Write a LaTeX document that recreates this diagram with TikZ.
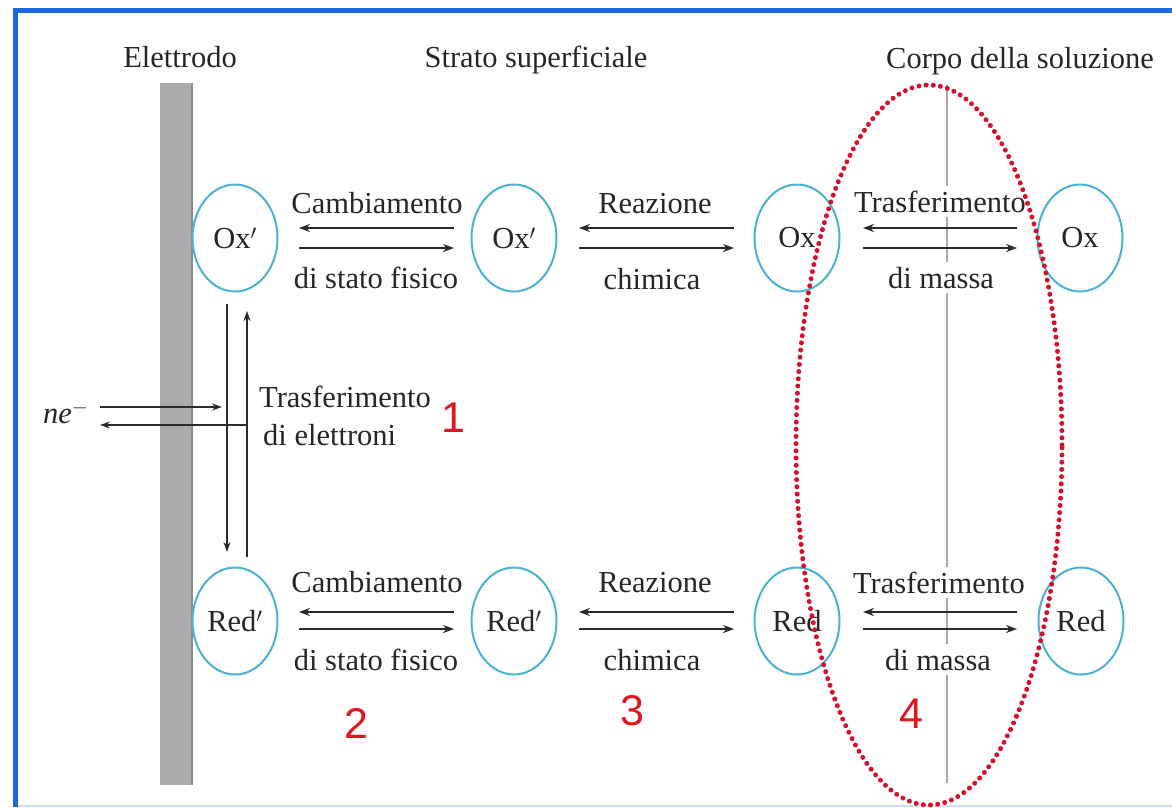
\documentclass[tikz,border=0pt]{standalone}
\usepackage{fontspec}
\setmainfont{Liberation Serif}
\newfontfamily\digitfont{Liberation Sans}
\usetikzlibrary{shapes.geometric,arrows.meta}
\definecolor{bordblue}{HTML}{1E66DC}
\definecolor{lightblue}{HTML}{C8DEFA}
\definecolor{cyanc}{HTML}{4AB2D2}
\definecolor{txtgray}{HTML}{262626}
\definecolor{arrgray}{HTML}{2A2A2A}
\definecolor{elgray}{HTML}{ABABAD}
\definecolor{eledge}{HTML}{8A8A8A}
\definecolor{sepgray}{HTML}{A8A8A8}
\definecolor{numred}{HTML}{E0161E}
\definecolor{zonered}{HTML}{D4102C}
\tikzset{
  txt/.style={font=\fontsize{30.5}{36}\selectfont, text=txtgray, inner sep=1pt},
  species/.style={ellipse, draw=cyanc, line width=2pt, minimum width=85pt,
    minimum height=107pt, inner sep=0pt, txt},
  arr/.style={draw=arrgray, line width=2.2pt, -{Stealth[length=11pt,width=8pt]}},
  thinarr/.style={draw=arrgray, line width=1.5pt, -{Stealth[length=10pt,width=7pt]}},
  num/.style={font=\digitfont\fontsize{43}{43}\selectfont, text=numred, inner sep=0pt},
  masklab/.style={txt, fill=white, inner sep=5pt},
}
\begin{document}
\begin{tikzpicture}[x=1pt,y=-1pt]
\useasboundingbox (0,0) rectangle (1172,807);
\fill[white] (0,0) rectangle (1172,807);

% frame
\draw[bordblue, line width=5pt] (1172,10) -- (15.5,10) -- (15.5,807);
\draw[lightblue, line width=2pt] (18,805.5) -- (1172,805.5);

% electrode
\fill[elgray] (160,83) rectangle (193,785);
\draw[eledge, line width=2pt] (192,83) -- (192,785);

% separator line
\draw[sepgray, line width=1.3pt] (947,85) -- (947,783);

% headers
\node[txt, anchor=base] (hel) at (180,67) {Elettrodo};
\node[txt, anchor=base] (hst) at (536,67) {Strato superficiale};
\node[txt, anchor=base] (hco) at (1020,68) {Corpo della soluzione};

% species
\node[species] (ox1) at (235,238) {Ox$'$};
\node[species] (ox2) at (514,238) {Ox$'$};
\node[species] (ox3) at (797,238) {Ox};
\node[species] (ox4) at (1080,238) {Ox};
\node[species] (red1) at (235,621) {Red$'$};
\node[species] (red2) at (514,621) {Red$'$};
\node[species] (red3) at (797,621) {Red};
\node[species] (red4) at (1081,621) {Red};

% labels top row
\node[txt, anchor=base] (l1a) at (377,213) {Cambiamento};
\node[txt, anchor=base] (l1b) at (376,288) {di stato fisico};
\node[txt, anchor=base] (l2a) at (655,213) {Reazione};
\node[txt, anchor=base] (l2b) at (652,289) {chimica};
\node[masklab, anchor=base] (l3a) at (940,212) {Trasferimento};
\node[masklab, anchor=base] (l3b) at (941,288) {di massa};
% labels bottom row
\node[txt, anchor=base] (m1a) at (377,592) {Cambiamento};
\node[txt, anchor=base] (m1b) at (376,670) {di stato fisico};
\node[txt, anchor=base] (m2a) at (655,592) {Reazione};
\node[txt, anchor=base] (m2b) at (652,670) {chimica};
\node[masklab, anchor=base] (m3a) at (939,593) {Trasferimento};
\node[masklab, anchor=base] (m3b) at (938,670) {di massa};

% top row arrows
\draw[arr, shorten <=16.5pt, shorten >=20.5pt] ([yshift=10pt]ox2.west) -- ([yshift=10pt]ox1.east);
\draw[arr, shorten <=20.5pt, shorten >=16.5pt] ([yshift=-10pt]ox1.east) -- ([yshift=-10pt]ox2.west);
\draw[arr, shorten <=19.5pt, shorten >=21.5pt] ([yshift=10pt]ox3.west) -- ([yshift=10pt]ox2.east);
\draw[arr, shorten <=21.5pt, shorten >=19.5pt] ([yshift=-10pt]ox2.east) -- ([yshift=-10pt]ox3.west);
\draw[arr, shorten <=19.5pt, shorten >=22.5pt] ([yshift=10pt]ox4.west) -- ([yshift=10pt]ox3.east);
\draw[arr, shorten <=22.5pt, shorten >=19.5pt] ([yshift=-10pt]ox3.east) -- ([yshift=-10pt]ox4.west);
% bottom row arrows
\draw[arr, shorten <=16.5pt, shorten >=20.5pt] ([yshift=9pt]red2.west) -- ([yshift=9pt]red1.east);
\draw[arr, shorten <=20.5pt, shorten >=16.5pt] ([yshift=-8pt]red1.east) -- ([yshift=-8pt]red2.west);
\draw[arr, shorten <=19.5pt, shorten >=21.5pt] ([yshift=9pt]red3.west) -- ([yshift=9pt]red2.east);
\draw[arr, shorten <=21.5pt, shorten >=19.5pt] ([yshift=-8pt]red2.east) -- ([yshift=-8pt]red3.west);
\draw[arr, shorten <=20.5pt, shorten >=22.5pt] ([yshift=9pt]red4.west) -- ([yshift=9pt]red3.east);
\draw[arr, shorten <=22.5pt, shorten >=20.5pt] ([yshift=-8pt]red3.east) -- ([yshift=-8pt]red4.west);

% electron transfer
\coordinate (dnx) at ([xshift=-8pt]ox1.south);
\coordinate (upx) at ([xshift=12pt]red1.north);
\coordinate (neA) at (100,407);
\coordinate (neB) at (100,425);
\draw[thinarr, shorten <=11.5pt, shorten >=14.5pt] (dnx) -- ([xshift=-8pt]red1.north);
\draw[thinarr, shorten <=9.5pt, shorten >=18.5pt] (upx) -- ([xshift=12pt]ox1.south);
\draw[thinarr, shorten >=5pt] (neA) -- (neA -| dnx);
\draw[thinarr] (neB -| upx) -- (neB);
\node[txt, anchor=base west] (ne) at (42,423) {\textit{ne}$^{-}$};
\node[txt, anchor=base west] (te1) at (258,407) {Trasferimento};
\node[txt, anchor=base west] (te2) at (262,445) {di elettroni};

% numbers
\node[num, anchor=base] (n1) at (453,432) {1};
\node[num, anchor=base] (n2) at (356,738) {2};
\node[num, anchor=base] (n3) at (632,725) {3};
\node[num, anchor=base] (n4) at (911,728) {4};

% dotted zone
\node[ellipse, draw=zonered, line width=5pt, dash pattern=on 0.01pt off 7.2pt,
  line cap=round, minimum width=266pt, minimum height=720pt, inner sep=0pt] (zone) at (929,445) {};
\end{tikzpicture}
\end{document}
